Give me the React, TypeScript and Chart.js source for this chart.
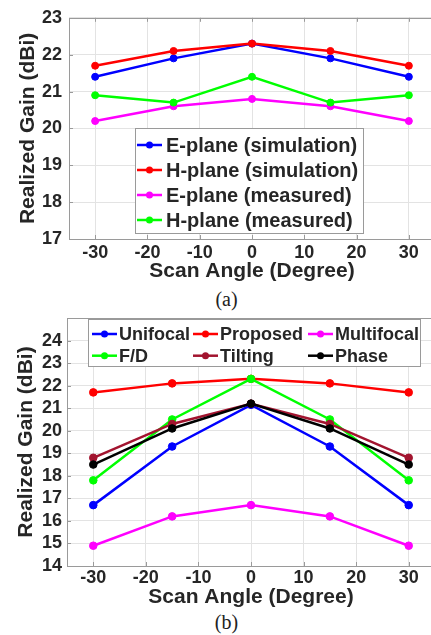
import React, { useEffect, useRef } from "react";
import { Chart, registerables } from "chart.js";
Chart.register(...registerables);

const angles = [-30, -15, 0, 15, 30];
const xTicks = [-30, -20, -10, 0, 10, 20, 30];

const aLabels = ["E-plane (simulation)", "H-plane (simulation)", "E-plane (measured)", "H-plane (measured)"];
const aEplaneSim = [21.4, 21.9, 22.3, 21.9, 21.4];
const aHplaneSim = [21.7, 22.1, 22.3, 22.1, 21.7];
const aEplaneMeas = [20.2, 20.6, 20.8, 20.6, 20.2];
const aHplaneMeas = [20.9, 20.7, 21.4, 20.7, 20.9];
const aYTicks = [17, 18, 19, 20, 21, 22, 23];

const bLabels = ["Unifocal", "Proposed", "Multifocal", "F/D", "Tilting", "Phase"];
const bUnifocal = [16.7, 19.3, 21.15, 19.3, 16.7];
const bProposed = [21.7, 22.1, 22.3, 22.1, 21.7];
const bMultifocal = [14.9, 16.2, 16.7, 16.2, 14.9];
const bFD = [17.8, 20.5, 22.3, 20.5, 17.8];
const bTilting = [18.8, 20.3, 21.2, 20.3, 18.8];
const bPhase = [18.5, 20.1, 21.2, 20.1, 18.5];
const bYTicks = [14, 15, 16, 17, 18, 19, 20, 21, 22, 23, 24];

const FAMILY = "'Liberation Sans', Arial, Helvetica, sans-serif";
const TEXT = "#262626";
const GRID = "#e3e3e3";
const FRAME = "#9a9a9a";

const framePlugin = {
  id: "frameLegend",
  afterDatasetsDraw(chart: any, _args: any, opts: any) {
    const { ctx, chartArea: ca } = chart;
    ctx.save();
    // frame
    ctx.strokeStyle = FRAME;
    ctx.lineWidth = 1;
    ctx.strokeRect(Math.round(ca.left) + 0.5, Math.round(ca.top) + 0.5, Math.round(ca.right - ca.left), Math.round(ca.bottom - ca.top));
    // inward ticks
    const xs = chart.scales.x;
    const ys = chart.scales.y;
    ctx.beginPath();
    xs.ticks.forEach((t: any) => {
      const px = Math.round(xs.getPixelForValue(t.value)) + 0.5;
      ctx.moveTo(px, ca.bottom);
      ctx.lineTo(px, ca.bottom - 4);
      ctx.moveTo(px, ca.top);
      ctx.lineTo(px, ca.top + 4);
    });
    ys.ticks.forEach((t: any) => {
      const py = Math.round(ys.getPixelForValue(t.value)) + 0.5;
      ctx.moveTo(ca.left, py);
      ctx.lineTo(ca.left + 4, py);
    });
    ctx.stroke();
    // legend
    if (opts && opts.box) {
      const b = opts.box;
      ctx.fillStyle = "#ffffff";
      ctx.fillRect(b.x, b.y, b.w, b.h);
      ctx.strokeStyle = FRAME;
      ctx.strokeRect(b.x + 0.5, b.y + 0.5, b.w, b.h);
      ctx.font = `bold ${opts.fontSize}px ${FAMILY}`;
      ctx.textBaseline = "middle";
      ctx.textAlign = "left";
      chart.data.datasets.forEach((ds: any, i: number) => {
        const col = i % opts.cols;
        const row = Math.floor(i / opts.cols);
        const lx = b.x + opts.colX[col];
        const cy = b.y + opts.rowY0 + row * opts.rowH;
        ctx.strokeStyle = ds.borderColor;
        ctx.lineWidth = 2.5;
        ctx.beginPath();
        ctx.moveTo(lx, cy);
        ctx.lineTo(lx + opts.lineLen, cy);
        ctx.stroke();
        ctx.fillStyle = ds.borderColor;
        ctx.beginPath();
        ctx.arc(lx + opts.lineLen / 2, cy, 3.5, 0, Math.PI * 2);
        ctx.fill();
        ctx.fillStyle = TEXT;
        ctx.fillText(ds.label, lx + opts.textOff, cy + 1);
      });
    }
    ctx.restore();
  },
};

function makeDatasets(labels: string[], series: number[][], colors: string[], radius: number) {
  return series.map((s, i) => ({
    label: labels[i],
    data: s.map((v, j) => ({ x: angles[j], y: v })),
    borderColor: colors[i],
    backgroundColor: colors[i],
    pointBackgroundColor: colors[i],
    pointBorderColor: colors[i],
    borderWidth: 2.5,
    pointRadius: radius,
    pointBorderWidth: 1,
    tension: 0,
    order: series.length - i,
  }));
}

function makeOptions(cfg: any) {
  return {
    animation: false,
    responsive: false,
    maintainAspectRatio: false,
    layout: { padding: { left: 0, right: 5, top: cfg.padTop, bottom: 0 } },
    plugins: {
      legend: { display: false },
      tooltip: { enabled: false },
      frameLegend: cfg.legend,
    },
    scales: {
      x: {
        type: "linear",
        min: -35,
        max: 35,
        afterBuildTicks: (s: any) => {
          s.ticks = xTicks.map((v) => ({ value: v }));
        },
        afterFit: (s: any) => {
          s.height = cfg.xHeight;
        },
        grid: { color: GRID, drawTicks: false, lineWidth: 1 },
        border: { display: false },
        ticks: {
          autoSkip: false,
          maxRotation: 0,
          padding: cfg.xTickPad,
          color: TEXT,
          font: { family: FAMILY, size: 18, weight: "bold" },
        },
        title: {
          display: true,
          text: "Scan Angle (Degree)",
          color: TEXT,
          font: { family: FAMILY, size: 21, weight: "bold" },
          padding: { top: 0, bottom: cfg.xTitlePad },
        },
      },
      y: {
        type: "linear",
        min: cfg.yMin,
        max: cfg.yMax,
        afterBuildTicks: (s: any) => {
          s.ticks = cfg.yTicks.map((v: number) => ({ value: v }));
        },
        afterFit: (s: any) => {
          s.width = cfg.yWidth;
        },
        grid: { color: GRID, drawTicks: false, lineWidth: 1 },
        border: { display: false },
        ticks: {
          padding: cfg.yTickPad,
          color: TEXT,
          font: { family: FAMILY, size: 18, weight: "bold" },
        },
        title: {
          display: true,
          text: "Realized Gain (dBi)",
          color: TEXT,
          font: { family: FAMILY, size: 21, weight: "bold" },
          padding: { top: cfg.yTitlePad, bottom: 0 },
        },
      },
    },
  };
}

export default function App() {
  const refA = useRef<HTMLCanvasElement | null>(null);
  const refB = useRef<HTMLCanvasElement | null>(null);

  useEffect(() => {
    const chartA = new Chart(refA.current as HTMLCanvasElement, {
      type: "line",
      data: {
        datasets: makeDatasets(
          aLabels,
          [aEplaneSim, aHplaneSim, aEplaneMeas, aHplaneMeas],
          ["#0000ff", "#ff0000", "#ff00ff", "#00ff00"],
          3.5
        ),
      },
      options: makeOptions({
        padTop: 12,
        xHeight: 46,
        xTickPad: 3,
        xTitlePad: 1,
        yMin: 17,
        yMax: 23,
        yTicks: aYTicks,
        yWidth: 69,
        yTickPad: 7,
        yTitlePad: 16,
        legend: {
          box: { x: 135, y: 128, w: 228, h: 105 },
          cols: 1,
          colX: [2],
          rowY0: 17,
          rowH: 25,
          lineLen: 25,
          textOff: 29,
          fontSize: 20,
        },
      }) as any,
      plugins: [framePlugin],
    });
    const chartB = new Chart(refB.current as HTMLCanvasElement, {
      type: "line",
      data: {
        datasets: makeDatasets(
          bLabels,
          [bUnifocal, bProposed, bMultifocal, bFD, bTilting, bPhase],
          ["#0000ff", "#ff0000", "#ff00ff", "#00ff00", "#a2142f", "#000000"],
          3.8
        ),
      },
      options: makeOptions({
        padTop: 18,
        xHeight: 44,
        xTickPad: 1,
        xTitlePad: 0,
        yMin: 14,
        yMax: 25,
        yTicks: bYTicks,
        yWidth: 67,
        yTickPad: 5,
        yTitlePad: 14,
        legend: {
          box: { x: 88, y: 19, w: 332, h: 47 },
          cols: 3,
          colX: [4, 105, 220],
          rowY0: 15,
          rowH: 21.7,
          lineLen: 25,
          textOff: 27,
          fontSize: 18,
        },
      }) as any,
      plugins: [framePlugin],
    });
    return () => {
      chartA.destroy();
      chartB.destroy();
    };
  }, []);

  const caption: React.CSSProperties = {
    position: "absolute",
    left: 0,
    width: 453,
    textAlign: "center",
    fontFamily: "'Liberation Serif', 'Times New Roman', serif",
    fontSize: 20,
    lineHeight: "24px",
    color: "#222",
  };

  return (
    <div style={{ position: "fixed", left: 0, top: 0, width: 431, height: 635, overflow: "hidden", background: "#fff" }}>
      <canvas ref={refA} width={440} height={285} style={{ position: "absolute", left: 0, top: 0, width: 440, height: 285 }} />
      <div style={{ ...caption, top: 287 }}>(a)</div>
      <canvas ref={refB} width={440} height={310} style={{ position: "absolute", left: 0, top: 300, width: 440, height: 310 }} />
      <div style={{ ...caption, top: 610 }}>(b)</div>
    </div>
  );
}
